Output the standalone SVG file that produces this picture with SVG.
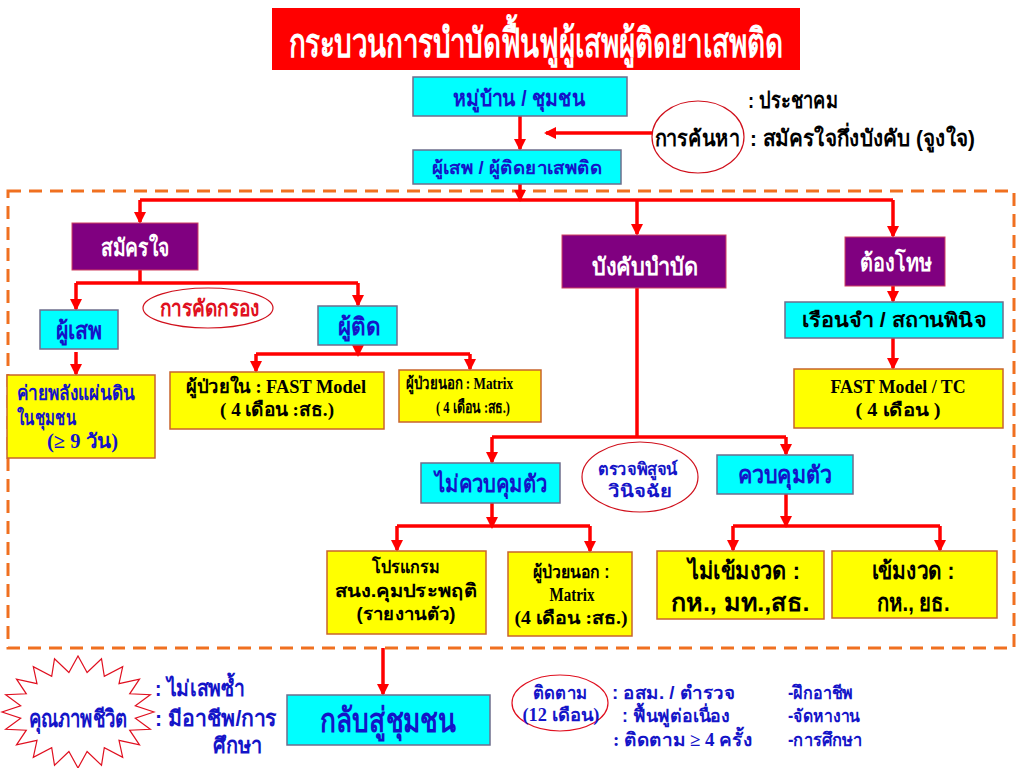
<svg xmlns="http://www.w3.org/2000/svg" width="1024" height="768" viewBox="0 0 1024 768">
<defs>
<style>
text{font-family:"Liberation Sans","DejaVu Sans",sans-serif;font-weight:bold;}
text.s{font-family:"Liberation Serif","DejaVu Serif",serif;}
.t{fill:#fff;}
.b{fill:#1414c8;}
.k{fill:#000;}
.r{fill:#e01020;}
.mid{text-anchor:middle;}
.cy{fill:#00ffff;stroke:#6e6e8c;stroke-width:1.5;}
.ye{fill:#ffff00;stroke:#c8642d;stroke-width:1.5;}
.pu{fill:#800080;stroke:#d04060;stroke-width:1;}
.ln{fill:none;stroke:#ff0000;stroke-width:3.5;}
.ar{fill:none;stroke:#ff0000;stroke-width:3.5;marker-end:url(#ah);}
.ov{fill:#fff;stroke:#d0101c;stroke-width:1.2;}
</style>
<marker id="ah" markerUnits="userSpaceOnUse" markerWidth="12" markerHeight="12" viewBox="0 0 12 12" refX="10" refY="6" orient="auto">
<path d="M0,0 L12,6 L0,12 Z" fill="#ff0000"/>
</marker>
</defs>
<rect width="1024" height="768" fill="#fff"/>

<g id="frame"><rect x="8" y="191" width="1006" height="457" fill="none" stroke="#f07020" stroke-width="3" stroke-dasharray="13,8"/></g>

<g id="title"><rect x="272" y="8" width="528" height="62" fill="#ff0000"/>
<text x="536" y="57" class="t mid" font-size="40" textLength="495" lengthAdjust="spacingAndGlyphs">กระบวนการบำบัดฟื้นฟูผู้เสพผู้ติดยาเสพติด</text></g>

<g id="connectors">
<path class="ar" d="M520,116 V149"/>
<path class="ar" d="M653,133 H546"/>
<path class="ar" d="M520,184 V200"/>
<path class="ln" d="M140,200 H893"/>
<path class="ar" d="M140,200 V222"/>
<path class="ar" d="M637,200 V234"/>
<path class="ar" d="M893,200 V236"/>
<path class="ln" d="M140,270 V283"/>
<path class="ln" d="M76,283 H358"/>
<path class="ar" d="M76,283 V309"/>
<path class="ar" d="M358,283 V305"/>
<path class="ar" d="M76,352 V374"/>
<path class="ar" d="M358,345 V355"/>
<path class="ln" d="M256,354 H470"/>
<path class="ar" d="M256,354 V371"/>
<path class="ar" d="M470,354 V369"/>
<path class="ln" d="M637,288 V437"/>
<path class="ln" d="M492,437 H786"/>
<path class="ar" d="M492,437 V462"/>
<path class="ar" d="M786,437 V454"/>
<path class="ar" d="M492,503 V527"/>
<path class="ln" d="M397,526 H590"/>
<path class="ar" d="M397,526 V550"/>
<path class="ar" d="M590,526 V551"/>
<path class="ar" d="M786,494 V526"/>
<path class="ln" d="M733,526 H940"/>
<path class="ar" d="M733,526 V550"/>
<path class="ar" d="M940,526 V550"/>
<path class="ar" d="M893,286 V301"/>
<path class="ar" d="M893,338 V368"/>
<path class="ar" d="M383,648 V694"/>
</g>

<g id="village"><rect class="cy" x="413" y="77" width="214" height="39"/>
<text x="519" y="106" class="b mid" font-size="22" textLength="132" lengthAdjust="spacingAndGlyphs">หมู่บ้าน / ชุมชน</text></g>

<g id="addict"><rect class="cy" x="413" y="150" width="208" height="34"/>
<text x="517" y="174" class="b mid" font-size="18" textLength="171" lengthAdjust="spacingAndGlyphs">ผู้เสพ / ผู้ติดยาเสพติด</text></g>

<g id="search"><ellipse class="ov" cx="698" cy="137" rx="46" ry="36"/>
<text x="697" y="146" class="k mid" font-size="22" textLength="85" lengthAdjust="spacingAndGlyphs">การค้นหา</text></g>
<g id="notes-top">
<text x="748" y="108" class="k" font-size="22" textLength="90" lengthAdjust="spacingAndGlyphs">: ประชาคม</text>
<text x="750" y="146" class="k" font-size="22" textLength="225" lengthAdjust="spacingAndGlyphs">: สมัครใจกึ่งบังคับ (จูงใจ)</text>
</g>

<g id="voluntary"><rect class="pu" x="72" y="223" width="126" height="47"/>
<text x="135" y="256" class="t mid" font-size="24" textLength="69" lengthAdjust="spacingAndGlyphs">สมัครใจ</text></g>
<g id="compulsory"><rect class="pu" x="562" y="235" width="164" height="53"/>
<text x="645" y="275" class="t mid" font-size="24" textLength="106" lengthAdjust="spacingAndGlyphs">บังคับบำบัด</text></g>
<g id="convicted"><rect class="pu" x="845" y="237" width="100" height="49"/>
<text x="896" y="271" class="t mid" font-size="24" textLength="72" lengthAdjust="spacingAndGlyphs">ต้องโทษ</text></g>

<g id="user"><rect class="cy" x="40" y="310" width="78" height="39"/>
<text x="79" y="339" class="b mid" font-size="24" textLength="47" lengthAdjust="spacingAndGlyphs">ผู้เสพ</text></g>
<g id="screening"><ellipse class="ov" cx="208" cy="308" rx="65" ry="20"/>
<text x="210" y="316" class="r mid" font-size="22" textLength="100" lengthAdjust="spacingAndGlyphs">การคัดกรอง</text></g>
<g id="dependent"><rect class="cy" x="318" y="306" width="79" height="39"/>
<text x="359" y="335" class="b mid" font-size="24" textLength="43" lengthAdjust="spacingAndGlyphs">ผู้ติด</text></g>

<g id="camp"><rect class="ye" x="7" y="375" width="148" height="83"/>
<text x="17" y="400" class="b" font-size="20" textLength="118" lengthAdjust="spacingAndGlyphs">ค่ายพลังแผ่นดิน</text>
<text x="17" y="425" class="b" font-size="20" textLength="59" lengthAdjust="spacingAndGlyphs">ในชุมชน</text>
<text x="47" y="448" class="b s" font-size="20" textLength="71" lengthAdjust="spacingAndGlyphs">(≥ 9 วัน)</text></g>

<g id="inpatient"><rect class="ye" x="170" y="372" width="214" height="57"/>
<text x="276" y="393" class="k mid s" font-size="19" textLength="180" lengthAdjust="spacingAndGlyphs">ผู้ป่วยใน  : FAST Model</text>
<text x="277" y="416" class="k mid s" font-size="19" textLength="114" lengthAdjust="spacingAndGlyphs">( 4 เดือน :สธ.)</text></g>

<g id="outpatient1"><rect class="ye" x="399" y="370" width="142" height="52"/>
<text x="406" y="389" class="k s" font-size="17" textLength="107" lengthAdjust="spacingAndGlyphs">ผู้ป่วยนอก : Matrix</text>
<text x="473" y="413" class="k mid s" font-size="17" textLength="74" lengthAdjust="spacingAndGlyphs">( 4 เดือน :สธ.)</text></g>

<g id="prison"><rect class="cy" x="785" y="302" width="218" height="36"/>
<text x="894" y="327" class="k mid" font-size="20" textLength="185" lengthAdjust="spacingAndGlyphs">เรือนจำ / สถานพินิจ</text></g>
<g id="fasttc"><rect class="ye" x="794" y="369" width="209" height="59"/>
<text x="898" y="393" class="k mid s" font-size="18" textLength="135" lengthAdjust="spacingAndGlyphs">FAST Model / TC</text>
<text x="898" y="416" class="k mid s" font-size="18" textLength="85" lengthAdjust="spacingAndGlyphs">( 4 เดือน )</text></g>

<g id="noncustody"><rect class="cy" x="421" y="463" width="139" height="40"/>
<text x="491" y="492" class="b mid" font-size="24" textLength="112" lengthAdjust="spacingAndGlyphs">ไม่ควบคุมตัว</text></g>
<g id="diagnosis"><ellipse class="ov" cx="640" cy="477" rx="58" ry="35"/>
<text x="638" y="475" class="b mid" font-size="17" textLength="80" lengthAdjust="spacingAndGlyphs">ตรวจพิสูจน์</text>
<text x="640" y="497" class="b mid" font-size="17" textLength="64" lengthAdjust="spacingAndGlyphs">วินิจฉัย</text></g>
<g id="custody"><rect class="cy" x="717" y="455" width="136" height="39"/>
<text x="785" y="483" class="b mid" font-size="24" textLength="94" lengthAdjust="spacingAndGlyphs">ควบคุมตัว</text></g>

<g id="probation"><rect class="ye" x="327" y="551" width="159" height="83"/>
<text x="406" y="573" class="k mid" font-size="18" textLength="68" lengthAdjust="spacingAndGlyphs">โปรแกรม</text>
<text x="406" y="597" class="k mid" font-size="18" textLength="142" lengthAdjust="spacingAndGlyphs">สนง.คุมประพฤติ</text>
<text x="406" y="620" class="k mid" font-size="18" textLength="99" lengthAdjust="spacingAndGlyphs">(รายงานตัว)</text></g>

<g id="outpatient2"><rect class="ye" x="508" y="552" width="124" height="84"/>
<text x="571" y="578" class="k mid" font-size="18" textLength="77" lengthAdjust="spacingAndGlyphs">ผู้ป่วยนอก :</text>
<text x="572" y="601" class="k mid s" font-size="18" textLength="45" lengthAdjust="spacingAndGlyphs">Matrix</text>
<text x="571" y="624" class="k mid s" font-size="18" textLength="113" lengthAdjust="spacingAndGlyphs">(4 เดือน :สธ.)</text></g>

<g id="nonstrict"><rect class="ye" x="657" y="551" width="167" height="68"/>
<text x="744" y="579" class="k mid" font-size="24" textLength="112" lengthAdjust="spacingAndGlyphs">ไม่เข้มงวด :</text>
<text x="740" y="611" class="k mid" font-size="24" textLength="139" lengthAdjust="spacingAndGlyphs">กห., มท.,สธ.</text></g>

<g id="strict"><rect class="ye" x="832" y="551" width="165" height="67"/>
<text x="913" y="579" class="k mid" font-size="24" textLength="83" lengthAdjust="spacingAndGlyphs">เข้มงวด :</text>
<text x="913" y="611" class="k mid" font-size="24" textLength="73" lengthAdjust="spacingAndGlyphs">กห., ยธ.</text></g>

<g id="return"><rect class="cy" x="287" y="695" width="203" height="50"/>
<text x="388" y="732" class="b mid" font-size="34" textLength="136" lengthAdjust="spacingAndGlyphs">กลับสู่ชุมชน</text></g>

<g id="quality"><polygon fill="#fff" stroke="#e01020" stroke-width="1.2" points="154,712 135.3,718.3 150.3,729.3 129.7,730.2 139.5,744.9 119,740.3 122.7,757.3 104.3,747.6 101.5,765.3 87.1,751.5 78,768 68.9,751.5 54.5,765.3 51.7,747.6 33.3,757.3 37,740.3 16.5,744.9 26.3,730.2 5.7,729.3 20.7,718.3 2,712 20.7,705.7 5.7,694.7 26.3,693.8 16.5,679.1 37,683.7 33.3,666.7 51.7,676.4 54.5,658.7 68.9,672.5 78,656 87.1,672.5 101.5,658.7 104.3,676.4 122.7,666.7 119,683.7 139.5,679.1 129.7,693.8 150.3,694.7 135.3,705.7"/>
<text x="78" y="727" class="b mid" font-size="24" textLength="99" lengthAdjust="spacingAndGlyphs">คุณภาพชีวิต</text></g>
<g id="quality-notes">
<text x="155" y="696" class="b" font-size="22" textLength="90" lengthAdjust="spacingAndGlyphs">: ไม่เสพซ้ำ</text>
<text x="155" y="726" class="b" font-size="22" textLength="122" lengthAdjust="spacingAndGlyphs">: มีอาชีพ/การ</text>
<text x="213" y="753" class="b" font-size="22" textLength="49" lengthAdjust="spacingAndGlyphs">ศึกษา</text>
</g>

<g id="follow"><ellipse fill="none" stroke="#e01020" stroke-width="1.2" cx="560" cy="703" rx="48" ry="28"/>
<text x="560" y="699" class="b mid" font-size="18" textLength="54" lengthAdjust="spacingAndGlyphs">ติดตาม</text>
<text x="561" y="721" class="b mid s" font-size="18" textLength="77" lengthAdjust="spacingAndGlyphs">(12 เดือน)</text></g>
<g id="follow-notes">
<text x="612" y="699" class="b" font-size="18" textLength="123" lengthAdjust="spacingAndGlyphs">:  อสม. / ตำรวจ</text>
<text x="622" y="722" class="b" font-size="18" textLength="108" lengthAdjust="spacingAndGlyphs">: ฟื้นฟูต่อเนื่อง</text>
<text x="613" y="746" class="b s" font-size="18" textLength="139" lengthAdjust="spacingAndGlyphs">: ติดตาม ≥ 4 ครั้ง</text>
<text x="788" y="699" class="b" font-size="18" textLength="65" lengthAdjust="spacingAndGlyphs">-ฝึกอาชีพ</text>
<text x="788" y="722" class="b" font-size="18" textLength="72" lengthAdjust="spacingAndGlyphs">-จัดหางาน</text>
<text x="788" y="746" class="b" font-size="18" textLength="74" lengthAdjust="spacingAndGlyphs">-การศึกษา</text>
</g>
</svg>
